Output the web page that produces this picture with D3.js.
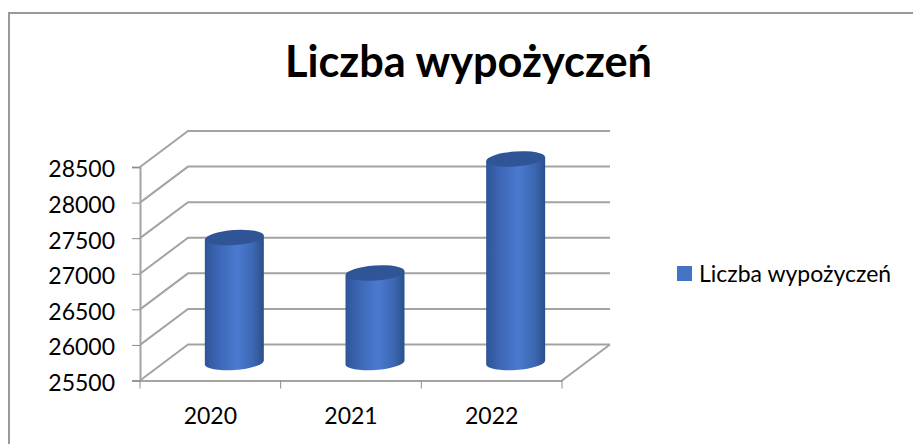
<!DOCTYPE html>
<html>
<head>
<meta charset="utf-8">
<script src="https://cdn.jsdelivr.net/npm/d3@7"></script>
<style>
  html, body { margin: 0; padding: 0; background: #fff; }
  svg { display: block; }
  text { font-family: Lato, "Open Sans", sans-serif; fill: #000; }
</style>
</head>
<body>
<div id="grafico"></div>
<script>
// Datos
const categories = ["2020", "2021", "2022"];
const values = [27255, 26757, 28360];
const yTicks = [25500, 26000, 26500, 27000, 27500, 28000, 28500];
const chartTitle = "Liczba wypożyczeń";
const seriesName = "Liczba wypożyczeń";

const width = 913;
const height = 444;
// desplazamiento de la pared trasera (falso 3D)
const depthX = 48;
const depthY = -36;
const cylW = 59;
const ry = 7.5;
const tilt = -4;

const svg = d3.select("#grafico")
  .append("svg")
  .attr("width", width)
  .attr("height", height);

// Marco
svg.append("path")
  .attr("d", `M9,444V13H913`)
  .attr("fill", "none")
  .attr("stroke", "#9a9a9a")
  .attr("stroke-width", 2);

// Escalas
const x = d3.scaleBand()
  .domain(categories)
  .range([140, 562]);

const y = d3.scaleLinear()
  .domain([25500, 28500])
  .range([380.5, 167]);

const gridColor = "#a3a3a3";

// Rejilla: pared trasera y suelo
const grid = svg.append("g").attr("fill", "none").attr("stroke", gridColor).attr("stroke-width", 2);
yTicks.forEach(t => {
  grid.append("path")
    .attr("d", `M${x.range()[0]},${y(t)}l${depthX},${depthY}H${x.range()[1] + depthX}`);
});
grid.append("path")
  .attr("d", `M${x.range()[1]},${y(25500)}l${depthX},${depthY}`);

// Ejes
const axisLeft = svg.append("g")
  .attr("transform", `translate(${x.range()[0]},0)`)
  .call(d3.axisLeft(y).tickValues(yTicks).tickFormat(d3.format("d")).tickSize(8).tickPadding(17));

const axisBottom = svg.append("g")
  .attr("transform", `translate(0,${y(25500)})`)
  .call(d3.axisBottom(x).tickSize(0).tickPadding(27));

// marcas del eje x en los limites de cada categoria
axisBottom.selectAll(".edge")
  .data(categories.map(c => x(c)).concat([x.range()[1]]))
  .join("line")
  .attr("class", "edge")
  .attr("x1", d => d)
  .attr("x2", d => d)
  .attr("y1", 0)
  .attr("y2", 8)
  .attr("stroke", "#8c8c8c");

svg.selectAll(".domain").attr("stroke", gridColor).attr("stroke-width", 2);
svg.selectAll(".tick line").attr("stroke", "#8c8c8c");
svg.selectAll(".tick text").style("font-size", "23px").attr("fill", "#000");
axisLeft.selectAll(".tick text").attr("dy", "0.43em");

// Degradado del cilindro
const defs = svg.append("defs");
const grad = defs.append("linearGradient")
  .attr("id", "cyl")
  .attr("x1", "0%").attr("x2", "100%").attr("y1", "0%").attr("y2", "0%");
grad.append("stop").attr("offset", "0%").attr("stop-color", "#2f5597");
grad.append("stop").attr("offset", "22%").attr("stop-color", "#3c66b4");
grad.append("stop").attr("offset", "55%").attr("stop-color", "#4a7ad0");
grad.append("stop").attr("offset", "82%").attr("stop-color", "#3c67b2");
grad.append("stop").attr("offset", "100%").attr("stop-color", "#2b4f8c");

// Cilindros
const rx = cylW / 2;
const dyEdge = rx * Math.sin(tilt * Math.PI / 180);
const bars = svg.append("g");

categories.forEach((c, i) => {
  const cx = x(c) + x.bandwidth() / 2 + depthX / 2;
  const yTop = y(values[i]) + depthY / 2;
  const yBase = y(25500) + depthY / 2;
  bars.append("path")
    .attr("d", `M${cx - rx},${yTop - dyEdge}` +
      `L${cx - rx},${yBase - dyEdge}` +
      `A${rx},${ry} ${tilt} 0 0 ${cx + rx},${yBase + dyEdge}` +
      `L${cx + rx},${yTop + dyEdge}Z`)
    .attr("fill", "url(#cyl)");
  bars.append("ellipse")
    .attr("cx", cx)
    .attr("cy", yTop)
    .attr("rx", rx)
    .attr("ry", ry)
    .attr("transform", `rotate(${tilt} ${cx} ${yTop})`)
    .attr("fill", "#2f5597");
});

// Titulo
svg.append("text")
  .attr("x", 468.5)
  .attr("y", 77)
  .attr("text-anchor", "middle")
  .style("font-size", "43.3px")
  .style("font-weight", 700)
  .text(chartTitle);

// Leyenda
svg.append("rect")
  .attr("x", 677)
  .attr("y", 266)
  .attr("width", 15)
  .attr("height", 15)
  .attr("fill", "#4472c4");

svg.append("text")
  .attr("x", 699)
  .attr("y", 281.5)
  .style("font-size", "23px")
  .text(seriesName);
</script>
</body>
</html>
